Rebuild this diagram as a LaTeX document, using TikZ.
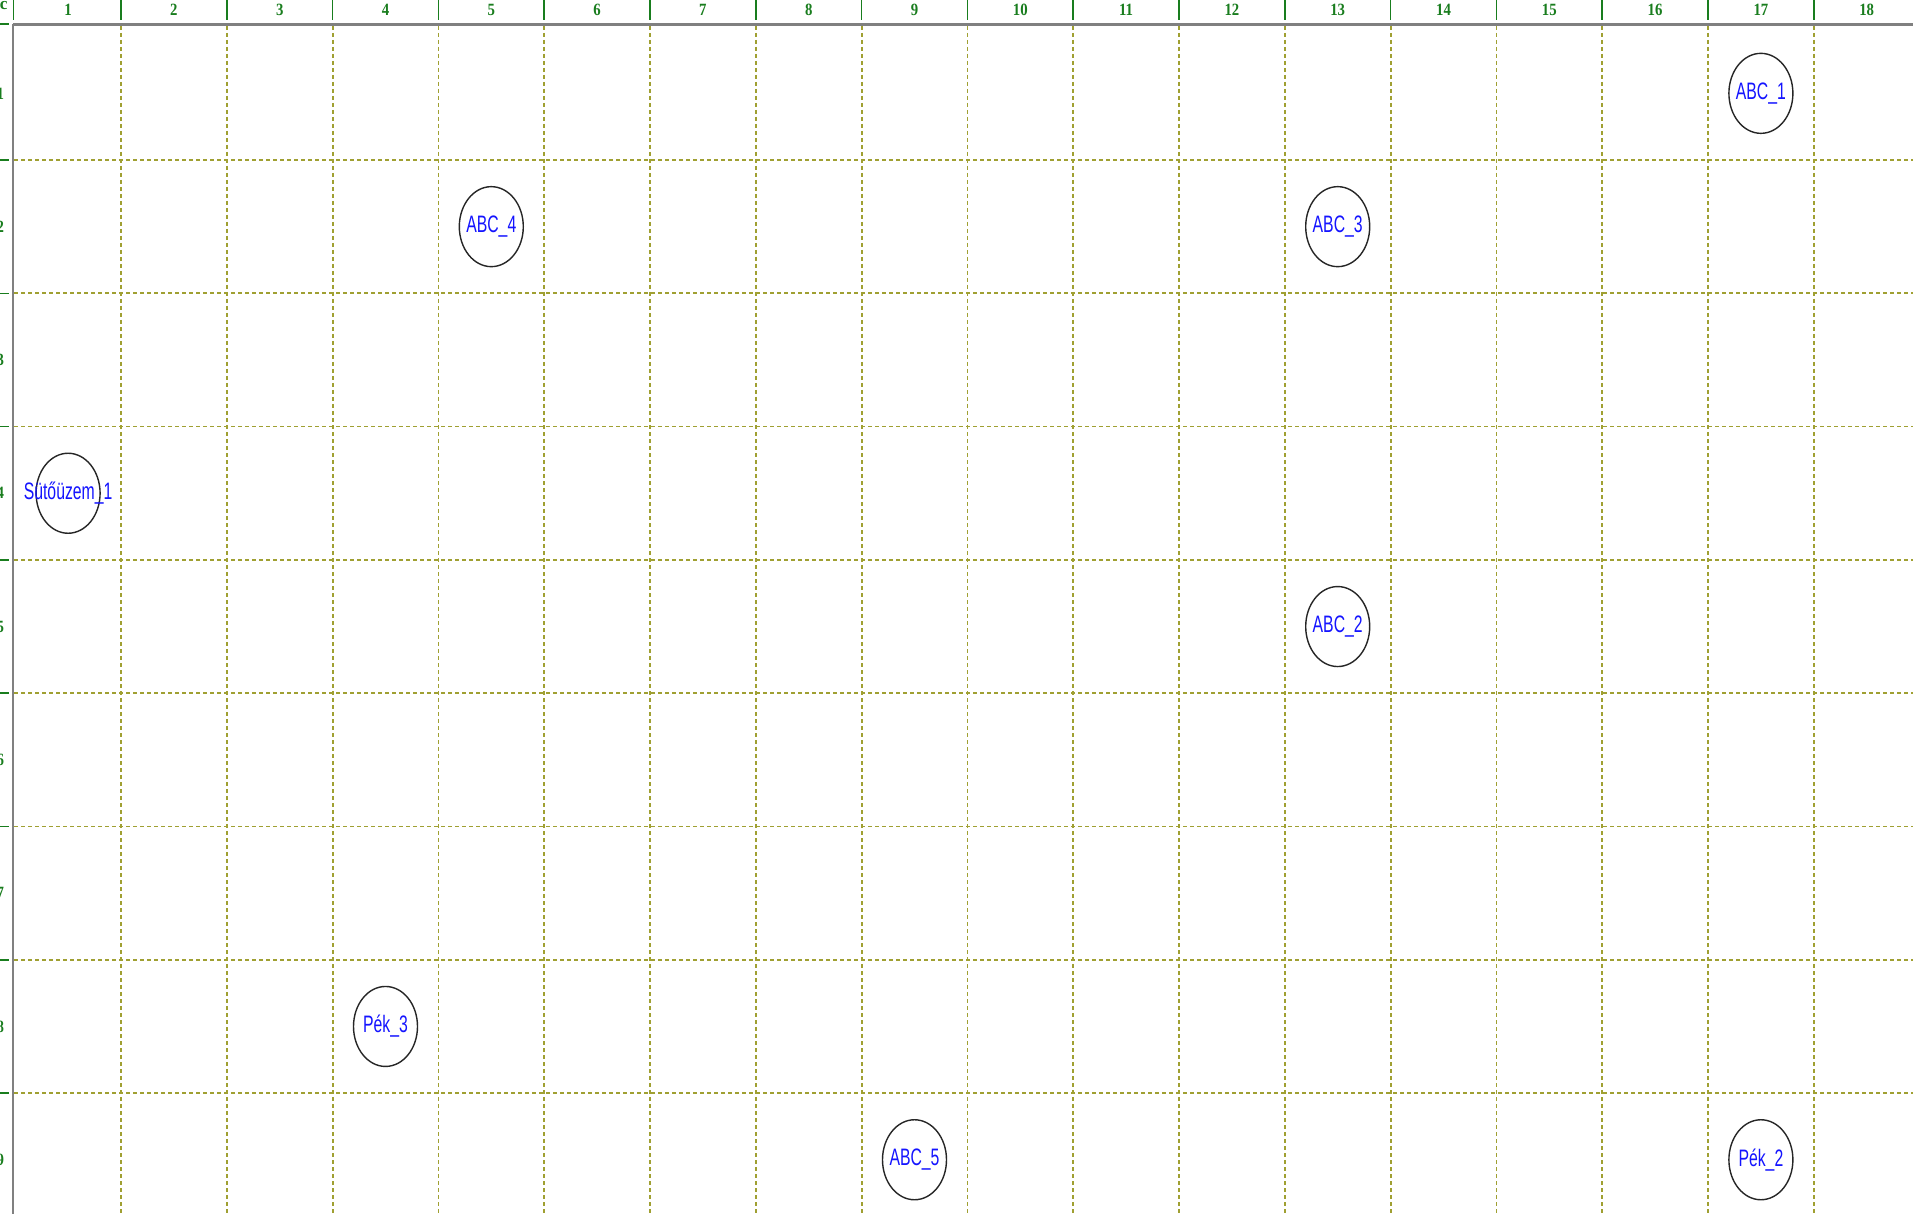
\documentclass[tikz,border=0pt]{standalone}
\usepackage{fontspec}
\setmainfont{Liberation Sans}
\newfontfamily\rulerfont{Liberation Serif}
\usetikzlibrary{shapes.geometric}
\definecolor{gridolive}{RGB}{160,160,50}
\definecolor{rulergreen}{RGB}{25,125,30}
\definecolor{axisgray}{RGB}{128,128,128}
\definecolor{labelblue}{RGB}{20,20,255}
\newcommand{\colx}[1]{15.2+(#1-0.5)*105.8}
\newcommand{\rowy}[1]{26.7+(#1-0.5)*133.3}
\begin{document}
\begin{tikzpicture}[x=0.5pt,y=-0.5pt,
  gridline/.style={draw=gridolive, line width=0.9pt, dash pattern=on 2pt off 1.5pt},
  tickmark/.style={draw=rulergreen, line width=0.75pt},
  axisline/.style={draw=axisgray},
  station/.style={ellipse, draw=black!85, line width=0.7pt, minimum width=32pt, minimum height=40pt, inner sep=0pt},
  stationtext/.style={text=labelblue, inner sep=0pt, font=\fontsize{11.9}{12}\selectfont},
  rulerlabel/.style={text=rulergreen, inner sep=0pt, font=\rulerfont\bfseries\fontsize{8.6}{9}\selectfont}
]
\path[use as bounding box] (0,0) rectangle (1913,1214);
\clip (0,0) rectangle (1913,1214);
\fill[white] (0,0) rectangle (1913,1214);
% grid
\foreach \k in {0,...,16} {
  \draw[gridline] ({121+\k*105.8},26) -- ({121+\k*105.8},1214);
}
\foreach \k in {0,...,7} {
  \draw[gridline] (14,{160+\k*133.3}) -- (1913,{160+\k*133.3});
}
% axes
\draw[axisline, line width=1.2pt] (13,24.5) -- (1913,24.5);
\draw[axisline, line width=0.75pt] (13,24) -- (13,1214);
% ruler ticks
\draw[tickmark] (13.5,0) -- (13.5,20);
\foreach \k in {0,...,16} {
  \draw[tickmark] ({121+\k*105.8},0) -- ({121+\k*105.8},20);
}
\draw[tickmark, line width=1pt] (0,24.5) -- (9,24.5);
\foreach \k in {0,...,7} {
  \draw[tickmark] (0,{160+\k*133.3}) -- (9,{160+\k*133.3});
}
% ruler labels
\node[rulerlabel, anchor=east] (corner) at (8,6) {c};
\foreach \c in {1,...,18} {
  \node[rulerlabel] (top\c) at ({\colx{\c}},10) {\scalebox{0.86}[1]{\c}};
}
\foreach \r in {1,...,9} {
  \node[rulerlabel, anchor=east] (left\r) at (4.5,{\rowy{\r}}) {\scalebox{0.86}[1]{\r}};
}
% stations
\foreach \nm/\c/\r/\txt in {
  abc1/17/1/{ABC\_1},
  abc4/5/2/{ABC\_4},
  abc3/13/2/{ABC\_3},
  sut1/1/4/{Sütőüzem\_1},
  abc2/13/5/{ABC\_2},
  pek3/4/8/{Pék\_3},
  abc5/9/9/{ABC\_5},
  pek2/17/9/{Pék\_2}} {
  \node[station] (\nm) at ({\colx{\c}},{\rowy{\r}}) {};
  \node[stationtext] (\nm-label) at (\nm.center) {\scalebox{0.663}[1]{\txt}};
}
\end{tikzpicture}
\end{document}
